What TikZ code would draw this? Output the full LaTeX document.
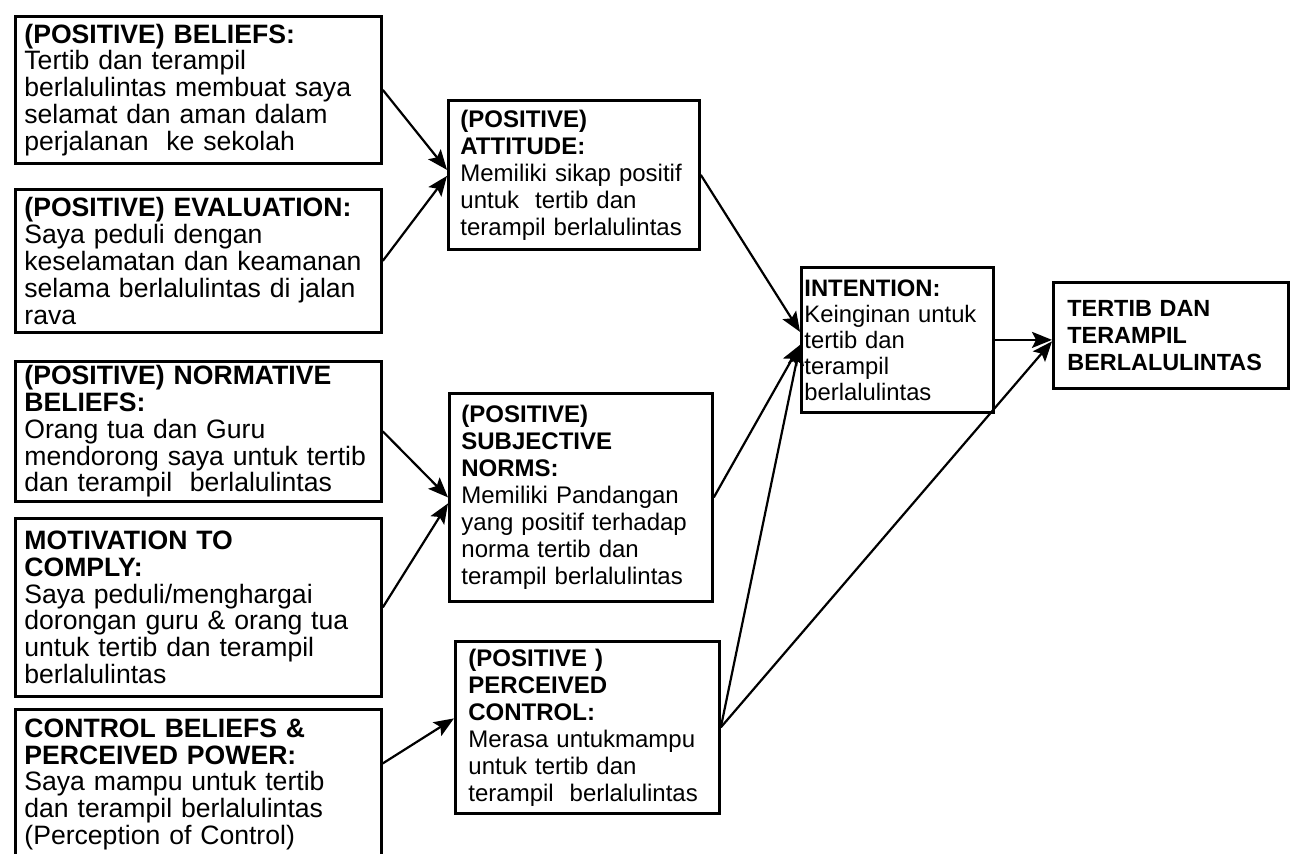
\documentclass[tikz,border=0pt]{standalone}
\usepackage{fontspec}
\setmainfont{Liberation Sans}
\usetikzlibrary{arrows.meta,positioning}

\begin{document}
\begin{tikzpicture}[x=0.5pt, y=-0.5pt,
    box/.style={draw, line width=1.4pt, anchor=north west, align=left, inner ysep=2pt},
    lbox/.style={box, inner xsep=4.5pt, text width=174pt, font=\fontsize{13.3}{13.4}\selectfont},
    mbox/.style={box, inner xsep=6pt, text width=#1, font=\fontsize{12}{13.5}\selectfont},
    link/.style={-{Stealth[length=10pt,width=8pt,inset=2pt]}, line width=1.1pt}]
  \path[use as bounding box, clip] (0,0) rectangle (1290,854);
  % left column: beliefs and evaluations
  \node[lbox, minimum height=73.5pt] (bel) at (14,15) {\textbf{(POSITIVE) BELIEFS:}\\Tertib dan terampil\\berlalulintas membuat saya\\selamat dan aman dalam\\perjalanan\ \ ke sekolah};
  \node[lbox, minimum height=71.5pt] (eva) at (14,188) {\textbf{(POSITIVE) EVALUATION:}\\Saya peduli dengan\\keselamatan dan keamanan\\selama berlalulintas di jalan\\rava};
  \node[lbox, minimum height=70pt] (nor) at (14,360) {\textbf{(POSITIVE) NORMATIVE}\\\textbf{BELIEFS:}\\Orang tua dan Guru\\mendorong saya untuk tertib\\dan terampil\ \ berlalulintas};
  \node[lbox, minimum height=89pt] (mot) at (14,517) {\textbf{MOTIVATION TO}\\\textbf{COMPLY:}\\Saya peduli/menghargai\\dorongan guru \& orang tua\\untuk tertib dan terampil\\berlalulintas};
  \node[lbox, minimum height=75pt] (ctl) at (14,708) {\textbf{CONTROL BELIEFS \&}\\\textbf{PERCEIVED POWER:}\\Saya mampu untuk tertib\\dan terampil berlalulintas\\(Perception of Control)};
  % middle column
  \node[mbox=113.5pt, minimum height=74.5pt] (att) at (447,99) {\textbf{(POSITIVE)}\\\textbf{ATTITUDE:}\\Memiliki sikap positif\\untuk\ \ tertib dan\\terampil berlalulintas};
  \node[mbox=119.5pt, minimum height=104pt] (sub) at (448,392) {\textbf{(POSITIVE)}\\\textbf{SUBJECTIVE}\\\textbf{NORMS:}\\Memiliki Pandangan\\yang positif terhadap\\norma tertib dan\\terampil berlalulintas};
  \node[mbox=119pt, inner xsep=6.5pt, minimum height=86pt] (per) at (454,640) {\textbf{(POSITIVE )}\\\textbf{PERCEIVED}\\\textbf{CONTROL:}\\Merasa untukmampu\\untuk tertib dan\\terampil\ \ berlalulintas};
  % right column
  \node[box, inner xsep=1.5pt, text width=93pt, minimum height=72.5pt, font=\fontsize{11.9}{13}\selectfont] (int) at (800,266) {\textbf{INTENTION:}\\Keinginan untuk\\tertib dan\\terampil\\berlalulintas};
  \node[box, inner xsep=7pt, text width=103.5pt, minimum height=53pt, font=\bfseries\fontsize{11.7}{13.5}\selectfont] (out) at (1052,281) {TERTIB DAN\\TERAMPIL\\BERLALULINTAS};
  % connectors
  \draw[link] (bel.east) -- ([yshift=2.5pt]att.west);
  \draw[link] (eva.east) -- ([yshift=-0.5pt]att.west);
  \draw[link] (nor.east) -- (sub.west);
  \draw[link] (mot.east) -- ([yshift=-3pt]sub.west);
  \draw[link] ([yshift=10.5pt]ctl.east) -- ([yshift=4.5pt]per.west);
  \draw[link] (att.east) -- ([yshift=4pt]int.west);
  \draw[link] (sub.east) -- ([yshift=-2.5pt]int.west);
  \draw[link] (per.east) -- ([yshift=-2.5pt]int.west);
  \draw[link] (per.east) -- ([yshift=-3pt]out.west);
  \draw[link] (int.east) -- (int.east -| out.west);
\end{tikzpicture}
\end{document}
